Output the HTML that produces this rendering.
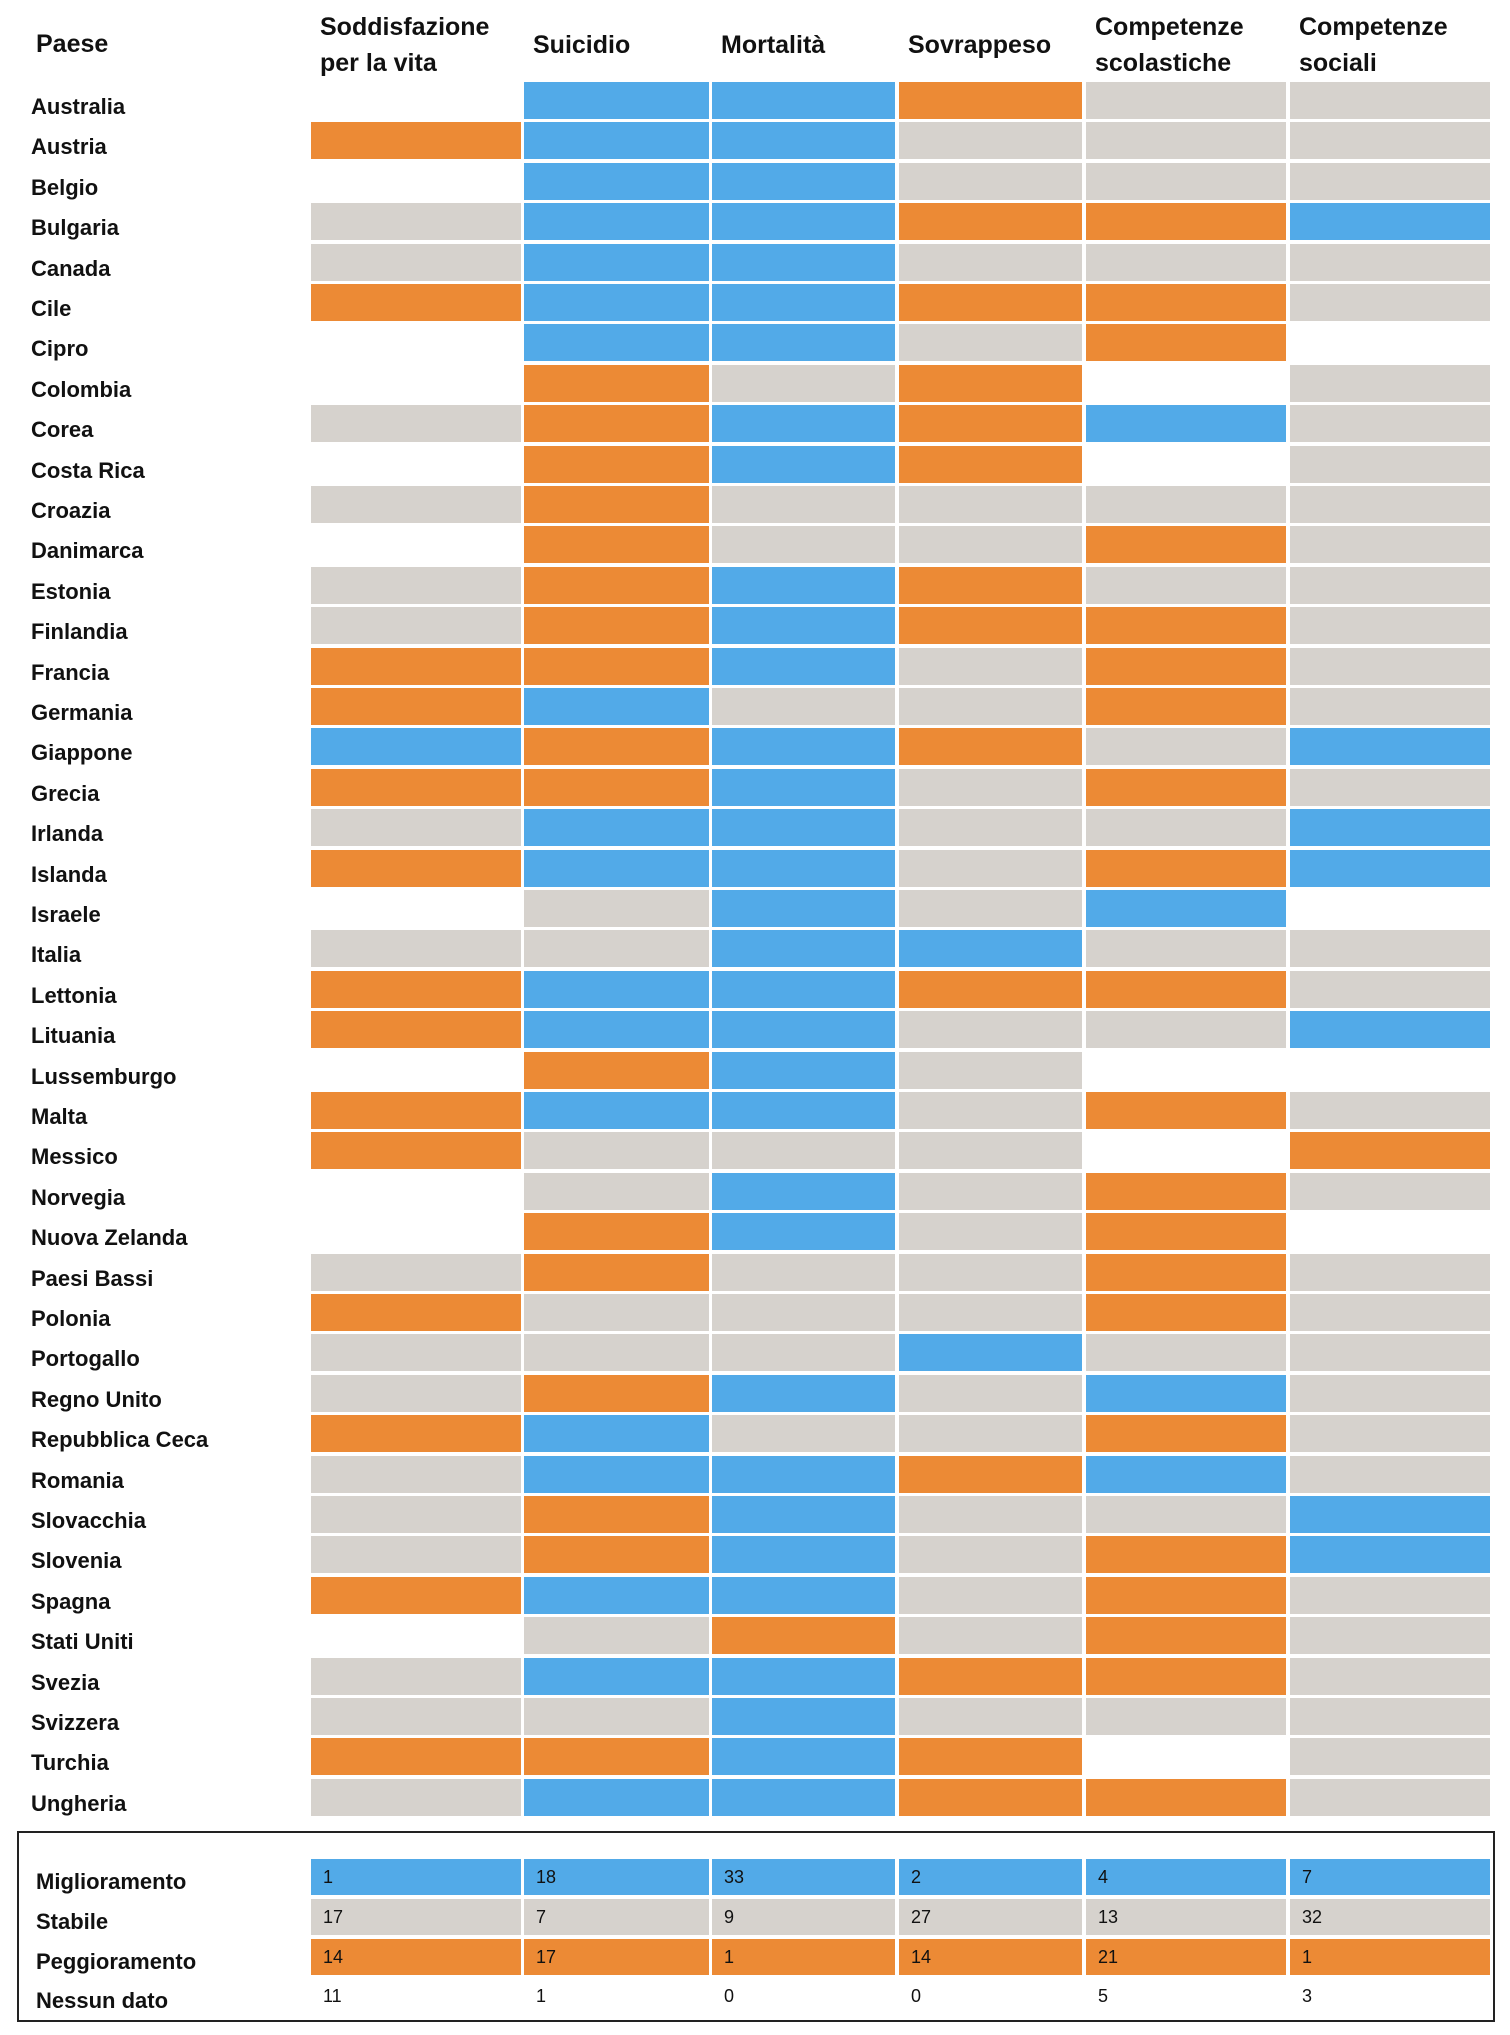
<!DOCTYPE html>
<html><head><meta charset="utf-8">
<style>
body{margin:0;background:#fff;width:1510px;height:2035px;position:relative;overflow:hidden;font-family:"Liberation Sans",sans-serif;color:#111}
.t{position:absolute;white-space:nowrap;font-weight:bold}
.cell{position:absolute}
.hdr{font-size:25px;line-height:36px}
.lab{font-size:22px}
.val{font-size:18px;font-weight:normal}
#box{position:absolute;left:17px;top:1831px;width:1478px;height:191px;border:2px solid #222;box-sizing:border-box}
</style></head><body>
<div id="box"></div>
<div class="t hdr" style="left:36px;top:26px">Paese</div>
<div id="root"></div>
<script>
const columns=["Soddisfazione\nper la vita","Suicidio","Mortalità","Sovrappeso","Competenze\nscolastiche","Competenze\nsociali"];
const countries=["Australia","Austria","Belgio","Bulgaria","Canada","Cile","Cipro","Colombia","Corea","Costa Rica","Croazia","Danimarca","Estonia","Finlandia","Francia","Germania","Giappone","Grecia","Irlanda","Islanda","Israele","Italia","Lettonia","Lituania","Lussemburgo","Malta","Messico","Norvegia","Nuova Zelanda","Paesi Bassi","Polonia","Portogallo","Regno Unito","Repubblica Ceca","Romania","Slovacchia","Slovenia","Spagna","Stati Uniti","Svezia","Svizzera","Turchia","Ungheria"];
const status=["_BBOGG","OBBGGG","_BBGGG","GBBOOB","GBBGGG","OBBOOG","_BBGO_","_OGO_G","GOBOBG","_OBO_G","GOGGGG","_OGGOG","GOBOGG","GOBOOG","OOBGOG","OBGGOG","BOBOGB","OOBGOG","GBBGGB","OBBGOB","_GBGB_","GGBBGG","OBBOOG","OBBGGB","_OBG__","OBBGOG","OGGG_O","_GBGOG","_OBGO_","GOGGOG","OGGGOG","GGGBGG","GOBGBG","OBGGOG","GBBOBG","GOBGGB","GOBGOB","OBBGOG","_GOGOG","GBBOOG","GGBGGG","OOBO_G","GBBOOG"];
const summaryLabels=["Miglioramento","Stabile","Peggioramento","Nessun dato"];
const improved=[1,18,33,2,4,7];
const stable=[17,7,9,27,13,32];
const worsened=[14,17,1,14,21,1];
const noData=[11,1,0,0,5,3];
const colX=[311,524,712,899,1086,1290];
const colW=[210,185,183,183,200,200];
const colors={B:"#52aae8",O:"#ec8a35",G:"#d6d2cd"};
const root=document.getElementById('root');
function rowY(i){return 82+i*40.4;}
columns.forEach((c,j)=>{
  const d=document.createElement('div');
  d.className='t hdr';
  const two=c.includes('\n');
  d.style.left=(colX[j]+9)+'px';d.style.top=(two?9:27)+'px';
  d.innerHTML=c.replace('\n','<br>');
  
  
  root.appendChild(d);
});
countries.forEach((n,i)=>{
  const y=rowY(i);
  const l=document.createElement('div');
  l.className='t lab';l.style.left='31px';l.style.top=(y+12)+'px';l.textContent=n;
  
  
  root.appendChild(l);
  for(let j=0;j<6;j++){
    const s=status[i][j];if(s==='_')continue;
    const c=document.createElement('div');
    c.className='cell';
    c.style.cssText=`left:${colX[j]}px;top:${y}px;width:${colW[j]}px;height:37px;background:${colors[s]}`;
    
    
    root.appendChild(c);
  }
});
const sumRows=[improved,stable,worsened,noData];
const sumCol=["B","G","O",null];
sumRows.forEach((arr,r)=>{
  const y=1859+r*39.8;
  const l=document.createElement('div');
  l.className='t lab';l.style.left='36px';l.style.top=(y+10)+'px';l.textContent=summaryLabels[r];
  
  
  root.appendChild(l);
  arr.forEach((v,j)=>{
    const c=document.createElement('div');
    c.className='cell';
    c.style.cssText=`left:${colX[j]}px;top:${y}px;width:${colW[j]}px;height:36px;background:${sumCol[r]?colors[sumCol[r]]:'transparent'}`;
    
    
    root.appendChild(c);
    const t=document.createElement('div');
    t.className='t val';t.style.left=(colX[j]+12)+'px';t.style.top=(y+8)+'px';t.textContent=v;
    
    
    root.appendChild(t);
  });
});
</script>
</body></html>
